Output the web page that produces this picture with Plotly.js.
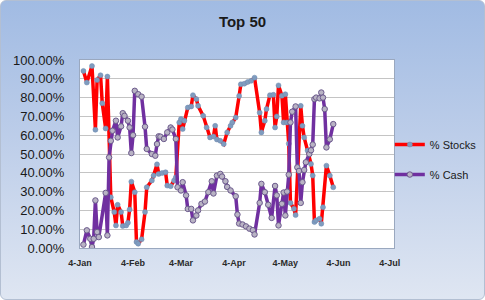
<!DOCTYPE html>
<html>
<head>
<meta charset="utf-8">
<script src="https://cdn.plot.ly/plotly-3.0.1.min.js"></script>
<style>
  html, body { margin: 0; padding: 0; background: #ffffff; }
  #wrap {
    position: absolute; left: 0; top: 0; width: 483px; height: 298px;
    border: 1px solid #b3bfd2; border-radius: 6px; overflow: hidden;
    background: linear-gradient(to bottom, #a1bbe3 0%, #bccde9 45%, #dfe6f2 100%);
  }
  #chart { width: 483px; height: 298px; }
</style>
</head>
<body>
<div id="wrap"><div id="chart"></div></div>
<script>
const YEAR = '2010-';
const chartTitle = 'Top 50';
const seriesNames = ['% Stocks', '% Cash'];

const stockDates = ['01-06','01-08','01-11','01-13','01-14','01-16','01-17','01-19','01-20','01-22',
  '01-24','01-25','01-26','01-28','01-29','01-31','02-01','02-02','02-03','02-05',
  '02-06','02-07','02-09','02-11','02-12','02-15','02-16','02-18','02-19','02-21',
  '02-23','02-24','02-26','02-28','03-01','03-03','03-04','03-05','03-06','03-08',
  '03-10','03-11','03-13','03-14','03-17','03-19','03-21','03-23','03-24','03-25',
  '03-27','03-29','03-31','04-02','04-03','04-05','04-07','04-08','04-10','04-12',
  '04-14','04-16','04-19','04-20','04-22','04-23','04-25','04-27','04-28','04-29',
  '04-30','05-02','05-03','05-04','05-05','05-06','05-07','05-09','05-10','05-13',
  '05-14','05-15','05-17','05-19','05-20','05-21','05-22','05-24','05-25','05-26',
  '05-28','05-30','06-01'];
const stockValues = [94.2,88,96.8,62.9,89.4,91.9,77,63.6,91.2,27,
  19.1,12,23,19.1,11.7,12,13.4,20.5,35.3,29.7,
  3.2,2.3,4.6,19.1,32.3,35.9,38.5,44.5,39.4,39.9,
  40.3,33.2,32.9,35.9,37.6,66.8,68.6,63.3,67.7,74.7,
  75.3,81.3,79.2,75.6,70.3,64.1,58.8,59.3,65,57.7,
  57,55.3,61.5,65,66.8,69.4,80.9,87.1,87.4,88.3,
  88.9,90.6,72,61.5,67.7,73.9,81.3,81.5,64.1,70,
  86.5,81,66.8,81.8,66.8,55.5,24,20.9,17.5,75.6,
  65,58.8,51.8,44.7,38.5,13.8,14.7,15.6,12.9,21.7,
  43.8,38.5,32.3];

const cashDates = ['01-06','01-08','01-10','01-11','01-12','01-13','01-14','01-15','01-19','01-20',
  '01-21','01-22','01-23','01-25','01-26','01-28','01-29','01-30','02-01','02-02',
  '02-03','02-04','02-05','02-07','02-09','02-11','02-12','02-15','02-17','02-18',
  '02-19','02-20','02-22','02-24','02-26','02-27','03-01','03-02','03-04','03-05',
  '03-07','03-08','03-10','03-11','03-13','03-14','03-16','03-18','03-20','03-22',
  '03-23','03-25','03-27','03-28','03-30','03-31','04-02','04-05','04-06','04-07',
  '04-09','04-11','04-13','04-15','04-16','04-19','04-20','04-22','04-24','04-26',
  '04-28','04-29','04-30','05-02','05-03','05-04','05-05','05-06','05-07','05-08',
  '05-10','05-11','05-12','05-13','05-14','05-15','05-16','05-18','05-19','05-20',
  '05-21','05-22','05-24','05-25','05-26','05-27','05-28','05-30','06-01'];
const cashValues = [1.8,9.4,4.9,0.5,4.9,25.3,8.5,5.8,29.3,6.7,
  48.2,57,62.4,67.7,58.8,64.7,71.7,70.3,67.7,64.1,
  50.5,60,83.6,81.8,80.5,64.5,52.7,50,49.1,55.3,
  59.4,59.2,58,61.5,64.1,63,58,32.3,30.6,35,
  28,20.8,20.8,14.7,17.3,20,23.5,24.7,29.7,35.5,
  29,38.5,39.4,38,35.5,32.5,30.6,27.5,17.8,13,
  12.5,11.5,10.3,9.5,7.2,24,34.1,29.7,23,16,
  33,28,12,23.5,29.5,17.3,30,39,66.8,72.5,
  75.3,42.9,41,24,35,41.5,45.6,50,52,55,
  79.2,80,79.6,82.7,80,73.9,53.5,57.8,65.9];

const tickDates = ['01-04','02-04','03-04','04-04','05-04','06-04','07-04'];

const fullDate = d => YEAR + d;

const traces = [
  {
    x: stockDates.map(fullDate), y: stockValues, name: seriesNames[0],
    type: 'scatter', mode: 'lines+markers', legendgroup: 'a',
    line: { color: '#ff0000', width: 3.5 },
    marker: { color: '#7f9cbf', size: 5, line: { color: '#6d8ab0', width: 0.5 } }
  },
  {
    x: cashDates.map(fullDate), y: cashValues, name: seriesNames[1],
    type: 'scatter', mode: 'lines+markers', legendgroup: 'b',
    line: { color: '#7030a0', width: 3.5 },
    marker: { color: '#b9b3c4', size: 5.5, line: { color: '#6b5a8c', width: 1 } }
  }
];

const layout = {
  width: 483, height: 298,
  margin: { l: 79, r: 90, t: 59, b: 51, autoexpand: false },
  paper_bgcolor: 'rgba(0,0,0,0)',
  plot_bgcolor: '#ffffff',
  showlegend: true,
  hovermode: false,
  title: {
    text: '<b>' + chartTitle + '</b>',
    x: 0.5, xanchor: 'center', y: 0.93, yanchor: 'middle',
    font: { family: 'Liberation Sans, Arial, sans-serif', size: 15, color: '#1a1a1a' }
  },
  xaxis: {
    type: 'date',
    range: [fullDate('01-04'), fullDate('07-06') + ' 12:00'],
    tickvals: tickDates.map(fullDate),
    tickformat: '%-d-%b',
    showgrid: false, zeroline: false,
    showline: true, mirror: true, linecolor: '#9aa8bf', linewidth: 1,
    ticks: '', ticklabelstandoff: 6,
    tickfont: { family: 'Liberation Sans, Arial, sans-serif', size: 9, color: '#2a2a2a', weight: 'bold' }
  },
  yaxis: {
    range: [0, 100], dtick: 10, tick0: 0,
    tickformat: '.2f', ticksuffix: '%',
    showgrid: true, gridcolor: '#c4c4c4', gridwidth: 1,
    zeroline: false,
    showline: true, mirror: true, linecolor: '#9aa8bf', linewidth: 1,
    ticks: '', ticklabelstandoff: 12,
    tickfont: { family: 'Liberation Sans, Arial, sans-serif', size: 13, color: '#1a1a1a' }
  },
  legend: {
    xref: 'container', yref: 'container',
    x: 0.805, xanchor: 'left', y: 0.567, yanchor: 'top',
    bgcolor: 'rgba(0,0,0,0)', borderwidth: 0,
    traceorder: 'grouped', tracegroupgap: 11, itemwidth: 30,
    font: { family: 'Liberation Sans, Arial, sans-serif', size: 11, color: '#1a1a1a' }
  }
};

Plotly.newPlot('chart', traces, layout, { displayModeBar: false, staticPlot: true });
</script>
</body>
</html>
